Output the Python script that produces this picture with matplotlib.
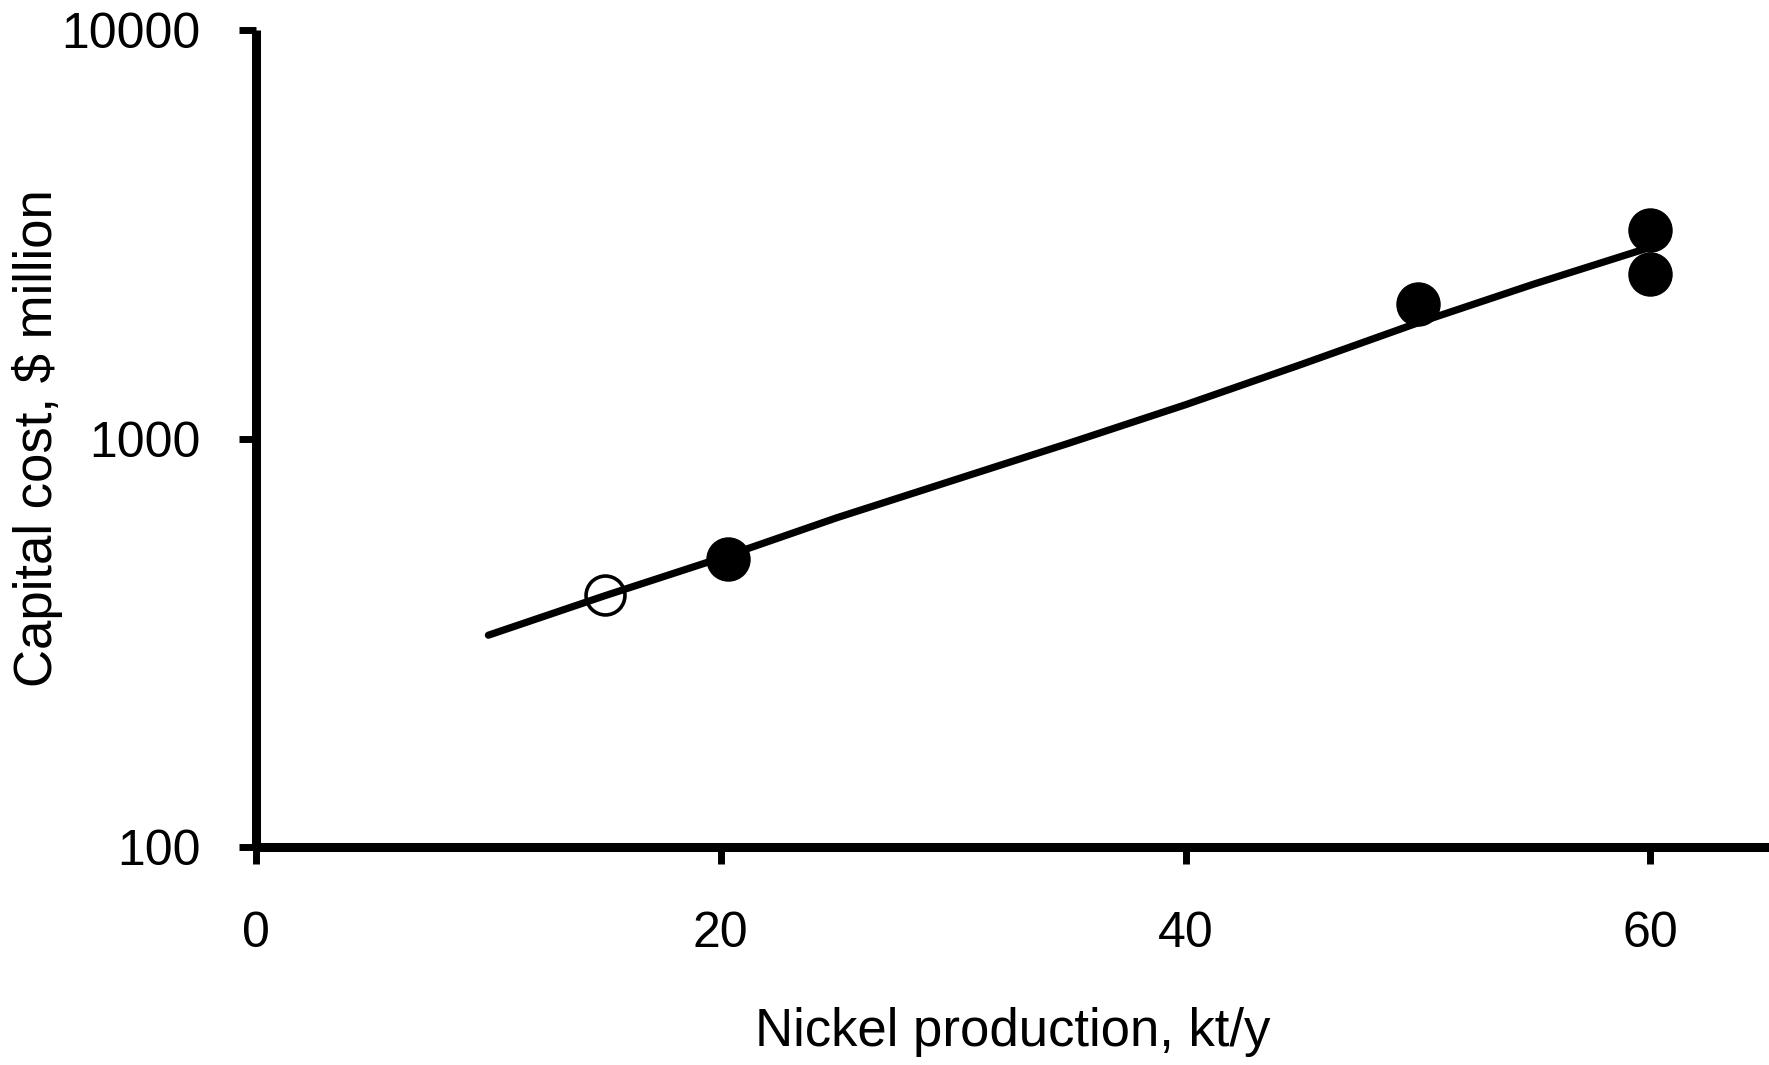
import numpy as np
import matplotlib
matplotlib.use("Agg")
from matplotlib import pyplot as plt

plt.rcParams.update({"font.family": "Liberation Sans", "font.size": 36})

# fitted trend line
line_x = [10, 15, 20, 25, 30, 35, 40, 45, 50, 55, 60]
line_y = [330, 412, 510, 640, 790, 975, 1210, 1520, 1920, 2390, 2940]

# plants (filled) and the open-circle estimate
filled_x = [20.3, 50, 60, 60]
filled_y = [507, 2134, 3238, 2528]
open_x = [15]
open_y = [414]

fig = plt.figure(figsize=(17.69, 10.65), dpi=100)
ax = fig.add_axes([0.1447, 0.2047, 1 - 0.1447, 0.9718 - 0.2047])

ax.plot(line_x, line_y, '-', color='black', lw=5.2, solid_capstyle='round', zorder=2)
ax.plot(filled_x, filled_y, 'o', color='black', ms=31, zorder=3)
ax.plot(open_x, open_y, 'o', mfc='none', mec='black', mew=2.6, ms=28, zorder=3)

ax.set_yscale('log')
ax.set_ylim(100, 10000)
ax.set_xlim(0, 65.1)
ax.set_xticks([0, 20, 40, 60])
ax.set_yticks([100, 1000, 10000])
ax.set_yticklabels(["100", "1000", "10000"])
ax.yaxis.set_minor_locator(matplotlib.ticker.NullLocator())

for s in ['top', 'right']:
    ax.spines[s].set_visible(False)
for s in ['left', 'bottom']:
    ax.spines[s].set_linewidth(6.5)
    ax.spines[s].set_capstyle('butt')

ax.tick_params(axis='both', direction='out', length=12, width=5, color='black')
ax.tick_params(axis='x', pad=34)
ax.tick_params(axis='y', pad=28)

ax.set_xlabel("Nickel production, kt/y", fontsize=38)
ax.set_ylabel("Capital cost, $ million", fontsize=38)
ax.xaxis.set_label_coords(0.5, -0.2264)
ax.xaxis.label.set_va('center')
ax.yaxis.set_label_coords(-0.1447, 0.5)
ax.yaxis.label.set_va('center')

plt.savefig("out.png", dpi=100)
